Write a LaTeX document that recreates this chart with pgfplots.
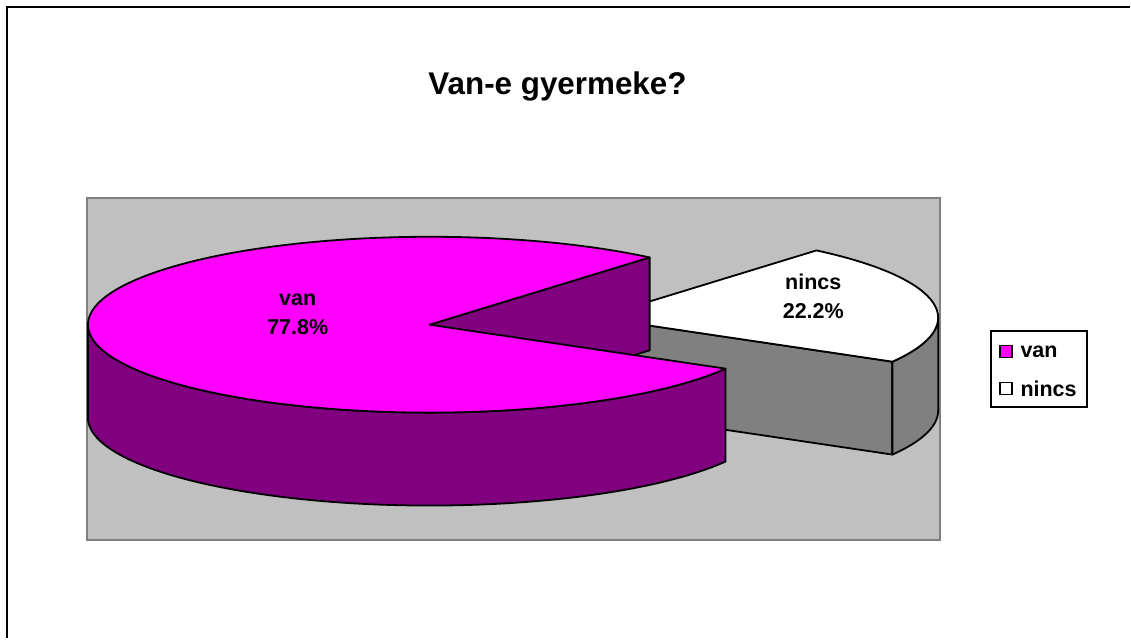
\documentclass[border=0pt]{standalone}
\usepackage{pgfplots}
\pgfplotsset{compat=1.18}
\usepackage{fontspec}
\setmainfont{Liberation Sans}
\definecolor{vantop}{HTML}{FF00FF}
\definecolor{vanside}{HTML}{800080}
\definecolor{nside}{HTML}{808080}
\definecolor{plotbg}{HTML}{C0C0C0}
% data (percent)
\def\vanval{77.8}
\def\nincsval{22.2}
\def\startang{-30}
\pgfmathsetmacro{\nEnd}{\startang+\nincsval*3.6}
\pgfmathsetmacro{\vEnd}{\nEnd+\vanval*3.6}
% point on ellipse rim: centre x, centre y, angle
\def\P#1#2#3{(axis cs:{#1+342*cos(#3)},{#2+88*sin(#3)})}
\begin{document}
\begin{tikzpicture}
\begin{axis}[x=0.5pt,y=0.5pt,xmin=0,xmax=1131,ymin=0,ymax=639,
  hide axis,clip=false,scale only axis]
\fill[white] (axis cs:0,0) rectangle (axis cs:1131,639);
\draw[black,line width=1pt] (axis cs:7,0) -- (axis cs:7,631.5) -- (axis cs:1131,631.5);
\filldraw[fill=plotbg,draw=nside,line width=1pt] (axis cs:87,99) rectangle (axis cs:941,441);
\node[anchor=base,font=\bfseries\fontsize{15.7}{18}\selectfont] at (axis cs:558,544) {Van-e gyermeke?};
% nincs slice (exploded)
\begin{scope}[draw=black,line width=0.9pt,line join=round]
\filldraw[fill=nside] (axis cs:597,321) -- \P{597}{321}{\startang} -- \P{597}{228}{\startang} -- (axis cs:597,228) -- cycle;
\filldraw[fill=nside] \P{597}{321}{\startang} arc[start angle=\startang,end angle=0,x radius=171pt,y radius=44pt] -- \P{597}{228}{0} arc[start angle=0,end angle=\startang,x radius=171pt,y radius=44pt] -- cycle;
\filldraw[fill=white] (axis cs:597,321) -- \P{597}{321}{\startang} arc[start angle=\startang,end angle=\nEnd,x radius=171pt,y radius=44pt] -- cycle;
% van slice
\filldraw[fill=vanside] (axis cs:430,314) -- \P{430}{314}{\nEnd} -- \P{430}{221}{\nEnd} -- (axis cs:430,221) -- cycle;
\filldraw[fill=vanside] \P{430}{314}{180} arc[start angle=180,end angle=\vEnd,x radius=171pt,y radius=44pt] -- \P{430}{221}{\vEnd} arc[start angle=\vEnd,end angle=180,x radius=171pt,y radius=44pt] -- cycle;
\filldraw[fill=vantop] (axis cs:430,314) -- \P{430}{314}{\nEnd} arc[start angle=\nEnd,end angle=\vEnd,x radius=171pt,y radius=44pt] -- cycle;
\end{scope}
% data labels
\begin{scope}[font=\bfseries\fontsize{10.75}{13}\selectfont]
\node[anchor=base] at (axis cs:298,333) {van};
\node[anchor=base] at (axis cs:298,304) {\vanval\%};
\node[anchor=base] at (axis cs:814,349) {nincs};
\node[anchor=base] at (axis cs:814,320) {\nincsval\%};
% legend
\filldraw[fill=white,draw=black,line width=0.9pt] (axis cs:992,232) rectangle (axis cs:1088,308);
\filldraw[fill=vantop,draw=black,line width=0.8pt] (axis cs:1001,281) rectangle (axis cs:1013,293);
\filldraw[fill=white,draw=black,line width=0.8pt] (axis cs:1001,244) rectangle (axis cs:1013,256);
\node[anchor=base west,inner sep=0pt] at (axis cs:1021,281) {van};
\node[anchor=base west,inner sep=0pt] at (axis cs:1021,242) {nincs};
\end{scope}
\end{axis}
\end{tikzpicture}
\end{document}
